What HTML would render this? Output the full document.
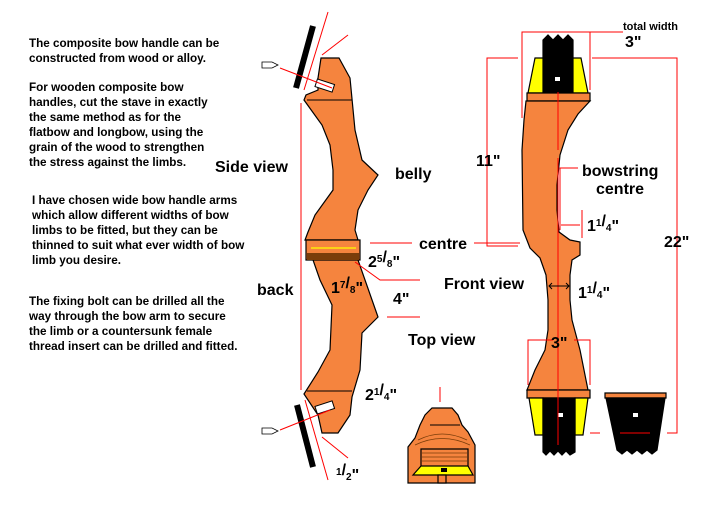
<!DOCTYPE html>
<html><head><meta charset="utf-8"><style>
body{margin:0;background:#fff}
svg text{font-family:"Liberation Sans",Arial,sans-serif}
.t{font-size:11.7px;font-weight:bold}
.l{font-size:16px;font-weight:bold}
</style></head><body>
<svg width="718" height="520" viewBox="0 0 718 520" xmlns="http://www.w3.org/2000/svg">
<rect width="718" height="520" fill="#fff"/>
<g class="t" fill="#000">
<text x="29" y="47">The composite bow handle can be</text>
<text x="29" y="62">constructed from wood or alloy.</text>
<text x="29" y="91">For wooden composite bow</text>
<text x="29" y="106">handles, cut  the stave in exactly</text>
<text x="29" y="121">the same method as for the</text>
<text x="29" y="136">flatbow and longbow, using the</text>
<text x="29" y="151">grain of the wood to strengthen</text>
<text x="29" y="166">the stress against the limbs.</text>
<text x="32" y="204">I have chosen wide bow handle arms</text>
<text x="32" y="219">which allow different widths of bow</text>
<text x="32" y="234">limbs to be fitted, but they can be</text>
<text x="32" y="249">thinned to suit what ever width of bow</text>
<text x="32" y="264">limb you desire.</text>
<text x="29" y="305">The fixing bolt can be drilled all the</text>
<text x="29" y="320">way through the bow arm to secure</text>
<text x="29" y="335">the limb or a countersunk female</text>
<text x="29" y="350">thread insert can be drilled and fitted.</text>
</g>

<!-- side view -->
<g stroke="#000" stroke-width="1.2" fill="#f5843e">
<path d="M321,58 L339,58 L350,78 L355,130 L362,160 L378,175 L368,190 L358,210 L355,230 L358,240 L305,240 L308,232 L315,215 L333,190 L333,170 L330,145 L322,125 L304,100 L306,95 L318,90 L318,78 Z"/>
<path d="M306,240 L360,240 L360,260 L306,260 Z"/>
<path d="M313,260 L358,260 L378,317 L362,333 L360,370 L352,397 L350,415 L338,433 L322,433 L318,415 L304,394 L318,372 L330,350 L332,305 L320,280 Z"/>
</g>
<rect x="307" y="253" width="52" height="7" fill="#7a3d0a"/>
<line x1="311" y1="248" x2="356" y2="248" stroke="#ff0" stroke-width="1.2"/>
<line x1="307" y1="100" x2="352" y2="100" stroke="#000"/>
<line x1="307" y1="391" x2="352" y2="391" stroke="#000"/>
<rect x="316" y="80" width="18" height="8" fill="#fff" stroke="#000" transform="rotate(18 320 84)"/>
<rect x="316" y="405" width="18" height="8" fill="#fff" stroke="#000" transform="rotate(-18 320 409)"/>
<line x1="313" y1="26" x2="296" y2="88" stroke="#000" stroke-width="6"/>
<line x1="297" y1="405" x2="313" y2="467" stroke="#000" stroke-width="6"/>
<g stroke="#f00" stroke-width="1" fill="none">
<line x1="328" y1="12" x2="304" y2="90"/><line x1="348" y1="35" x2="322" y2="55"/>
<line x1="280" y1="68" x2="332" y2="88"/>
<line x1="305" y1="400" x2="328" y2="480"/><line x1="322" y1="437" x2="348" y2="458"/>
<line x1="280" y1="430" x2="330" y2="410"/>
<line x1="301" y1="103" x2="301" y2="390"/>
<path d="M355,262 L380,280 L420,280"/>
<line x1="387" y1="317" x2="420" y2="317"/>
<line x1="370" y1="243" x2="412" y2="243"/>
<line x1="474" y1="243" x2="520" y2="243"/>
</g>
<g fill="#fff" stroke="#000" stroke-width="0.8">
<path d="M262,62 l10,0 l6,3 l-6,3 l-10,0 z"/><path d="M262,428 l10,0 l6,3 l-6,3 l-10,0 z"/>
</g>

<!-- front view -->
<g stroke="#000" stroke-width="1.2">
<path d="M543,40 L548,35 L553,40 L558,35 L563,40 L568,35 L573,40 L573,93 L543,93 Z" fill="#000"/>
<path d="M535,58 L543,58 L543,93 L528,93 Z" fill="#ff0"/>
<path d="M573,58 L581,58 L588,93 L573,93 Z" fill="#ff0"/>
<path d="M527,93 L590,93 L590,101 L527,101 Z" fill="#f5843e"/>
<path d="M526,101 L590,101 L578,114 L568,130 L560,155 L557,185 L557,210 L559,232 L570,240 L580,242 L580,255 L572,260 L570,275 L570,300 L572,320 L580,350 L588,390 L527,390 L535,370 L545,350 L548,330 L548,300 L546,275 L540,258 L530,248 L523,230 L522,150 L524,120 Z" fill="#f5843e"/>
<path d="M527,390 L590,390 L590,398 L527,398 Z" fill="#f5843e"/>
<path d="M529,398 L543,398 L543,435 L535,435 Z" fill="#ff0"/>
<path d="M575,398 L588,398 L583,435 L575,435 Z" fill="#ff0"/>
<path d="M543,398 L575,398 L575,452 L570,455 L566,451 L562,455 L558,451 L554,455 L550,451 L546,455 L543,452 Z" fill="#000"/>
<path d="M605,393 L666,393 L666,398 L605,398 Z" fill="#f5843e"/>
<path d="M606,398 L665,398 L657,450 L652,454 L647,450 L642,454 L637,450 L632,454 L627,450 L622,454 L617,450 Z" fill="#000"/>
</g>
<rect x="555" y="77" width="5" height="4" fill="#fff"/>
<rect x="558" y="413" width="5" height="4" fill="#fff"/>
<rect x="633" y="413" width="5" height="4" fill="#fff"/>
<g stroke="#f00" stroke-width="1" fill="none">
<line x1="558" y1="92" x2="558" y2="150"/>
<line x1="558" y1="158" x2="558" y2="445"/>
<path d="M522,118 L522,32 L623,32"/>
<path d="M590,90 L590,32"/>
<path d="M518,58 L487,58 L487,246 L518,246"/>
<path d="M592,58 L677,58 L677,433 L667,433"/>
<line x1="600" y1="433" x2="590" y2="433"/>
<line x1="620" y1="433" x2="650" y2="433"/>
<path d="M560,230 L560,168 L578,168"/>
<line x1="582" y1="210" x2="582" y2="238"/>
<line x1="561" y1="225" x2="580" y2="225"/>
<path d="M528,385 L528,340 L553,340"/><path d="M574,340 L590,340 L590,385"/>
<line x1="440" y1="387" x2="440" y2="402"/>
</g>
<g stroke="#000" stroke-width="1" fill="none"><line x1="549" y1="286" x2="569" y2="286"/><path d="M552,283 l-3,3 l3,3 M566,283 l3,3 l-3,3"/></g>

<!-- top view -->
<g stroke="#000" stroke-width="1.2" fill="#f5843e">
<path d="M408,483 L408,447 L415,438 L420,425 L425,415 L432,408 L452,408 L458,415 L462,425 L468,432 L475,445 L475,483 Z"/>
<path d="M421,449 L468,449 L468,468 L421,468 Z"/>
<path d="M413,475 L473,475 L468,466 L421,466 Z" fill="#ff0"/>
<path d="M438,475 L446,475 L446,483 L438,483 Z"/>
</g>
<g stroke="#7a3d0a" stroke-width="0.8">
<line x1="422" y1="453" x2="467" y2="453"/><line x1="422" y1="457" x2="467" y2="457"/><line x1="422" y1="461" x2="467" y2="461"/>
<path d="M415,445 Q442,432 470,445" fill="none"/><path d="M418,440 Q442,428 467,440" fill="none"/>
</g>
<line x1="430" y1="425" x2="460" y2="425" stroke="#000"/>
<rect x="441" y="468" width="6" height="4" fill="#000"/>

<g class="l" fill="#000">
<text x="215" y="172">Side view</text>
<text x="395" y="179">belly</text>
<text x="419" y="249">centre</text>
<text x="368" y="267">2<tspan font-size="10" dy="-5">5</tspan>/<tspan font-size="10" dy="5">8</tspan>"</text>
<text x="331" y="293">1<tspan font-size="10" dy="-5">7</tspan>/<tspan font-size="10" dy="5">8</tspan>"</text>
<text x="393" y="304">4"</text>
<text x="257" y="295">back</text>
<text x="444" y="289">Front view</text>
<text x="408" y="345">Top view</text>
<text x="365" y="400">2<tspan font-size="10" dy="-5">1</tspan>/<tspan font-size="10" dy="5">4</tspan>"</text>
<text x="336" y="480"><tspan font-size="10" dy="-5">1</tspan>/<tspan font-size="10" dy="5">2</tspan>"</text>
<text x="476" y="166">11"</text>
<text x="582" y="176">bowstring</text>
<text x="596" y="194">centre</text>
<text x="587" y="231">1<tspan font-size="10" dy="-5">1</tspan>/<tspan font-size="10" dy="5">4</tspan>"</text>
<text x="578" y="298">1<tspan font-size="10" dy="-5">1</tspan>/<tspan font-size="10" dy="5">4</tspan>"</text>
<text x="551" y="348">3"</text>
<text x="625" y="47">3"</text>
<text x="664" y="247">22"</text>
<text x="623" y="30" font-size="11">total width</text>
</g>
</svg>
</body></html>
